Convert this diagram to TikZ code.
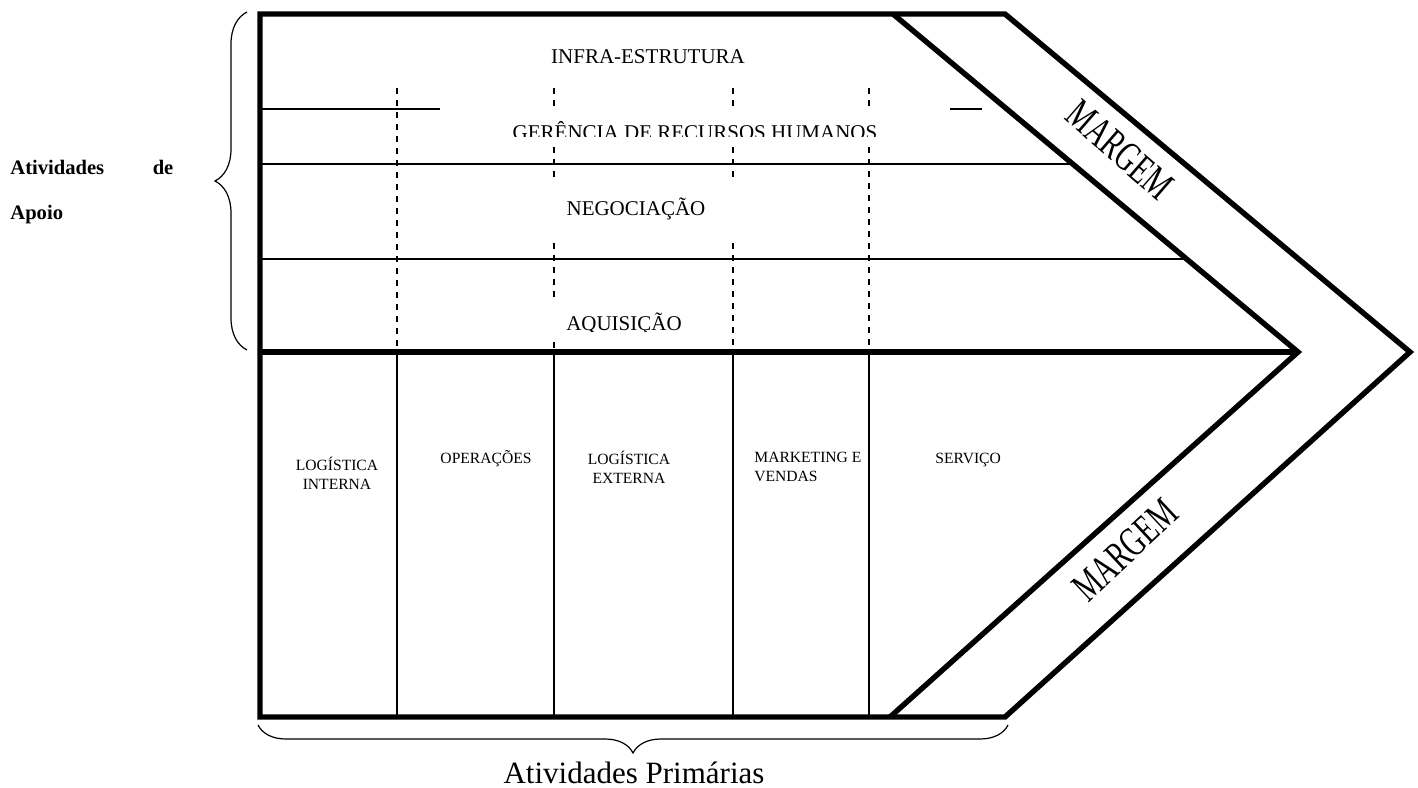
\documentclass[tikz,border=0pt]{standalone}
\usepackage{fontspec}
\setmainfont{Liberation Serif}
\usetikzlibrary{decorations.pathreplacing}

\begin{document}
\begin{tikzpicture}[
    x=0.5pt, y=-0.5pt,
    frame/.style={line width=2.7pt, line join=miter},
    divider/.style={line width=0.75pt},
    guide/.style={line width=0.75pt, dash pattern=on 3pt off 3pt},
    support/.style={font=\fontsize{10.5}{12}\selectfont, inner sep=0pt, anchor=base},
    primary/.style={font=\fontsize{7.8}{9.5}\selectfont, inner sep=0pt, anchor=base},
    margin/.style={font=\fontsize{21}{22}\selectfont, inner sep=0pt},
    bracket/.style={decorate, line width=0.6pt}
]
\useasboundingbox (0,0) rectangle (1418,787);
%
\coordinate (topleft) at (260,14);
\coordinate (topright) at (1005,14);
\coordinate (tip) at (1410,352);
\coordinate (botright) at (1005,717);
\coordinate (botleft) at (260,717);
\coordinate (intop) at (893,14);
\coordinate (intip) at (1298,352);
\coordinate (inbot) at (890,717);
\coordinate (midleft) at (260,352);

% chevron frame
\draw[frame] (topleft) -- (topright) -- (tip) -- (botright) -- (botleft) -- cycle;
\draw[frame] (intop) -- (intip) -- (inbot);
\draw[frame] (midleft) -- (intip);

% support rows
\draw[divider] (260,109) -- (440,109);
\draw[divider] (950,109) -- (982,109);
\draw[divider] (260,164) -- (1073,164);
\draw[divider] (260,259) -- (1186,259);

% dashed columns in the support part
\foreach \x/\a/\b in {397/88/352, 554/88/108, 554/147/180, 554/243/298, 554/342/352,
                      733/88/108, 733/147/180, 733/243/352, 869/88/108, 869/147/352}
    \draw[guide] (\x,\a) -- (\x,\b);

% primary columns
\foreach \x in {397,554,733,869}
    \draw[divider] (\x,352) -- (\x,717);

% support activities
\node[support] (infra) at (648,63) {INFRA-ESTRUTURA};
\begin{scope}
\clip (440,100) rectangle (950,136.5);
\node[support] (rh) at (695,139) {GERÊNCIA DE RECURSOS HUMANOS};
\end{scope}
\node[support] (neg) at (636,215) {NEGOCIAÇÃO};
\begin{scope}
\clip (540,300) rectangle (720,331);
\node[support] (aq) at (624,330) {AQUISIÇÃO};
\end{scope}

% primary activities (base = last line)
\node[primary, align=center] (logint) at (337,489) {LOGÍSTICA\\INTERNA};
\node[primary] (oper) at (486,463) {OPERAÇÕES};
\node[primary, align=center] (logext) at (629,483) {LOGÍSTICA\\EXTERNA};
\node[primary, align=left, anchor=base west] (mkt) at (754,481) {MARKETING E\\VENDAS};
\node[primary, anchor=base west] (serv) at (935,463) {SERVIÇO};

% margin
\node[margin, rotate=-41] (margtop) at (1120,150) {\scalebox{0.67}[1]{MARGEM}};
\node[margin, rotate=43] (margbot) at (1125,550) {\scalebox{0.67}[1]{MARGEM}};

% braces
\draw[bracket, decoration={brace, amplitude=16pt}] (247,350) -- (247,12);
\draw[bracket, decoration={brace, amplitude=14pt}] (1008,725) -- (258,725);
\node[font=\fontsize{10.3}{22.5}\selectfont\bfseries, inner sep=0pt, anchor=base west, align=left]
    (apoio) at (10,219) {\hbox to 81.5pt{Atividades\hfil de}\\Apoio};
\node[font=\fontsize{15.5}{18}\selectfont, inner sep=0pt, anchor=base]
    (primarias) at (634,783) {Atividades Primárias};
\end{tikzpicture}
\end{document}
